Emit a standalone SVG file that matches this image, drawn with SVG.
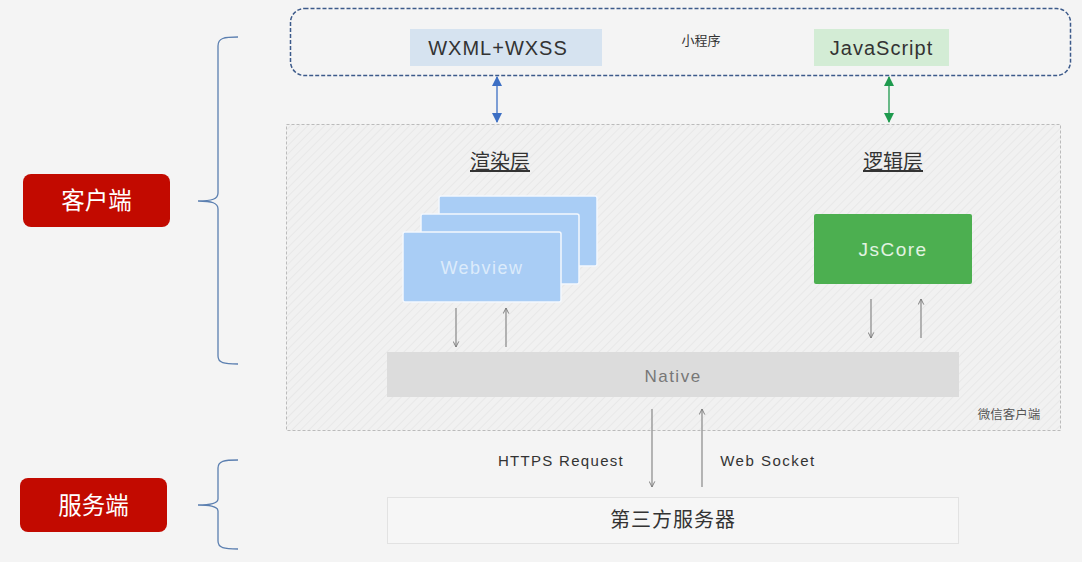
<svg xmlns="http://www.w3.org/2000/svg" width="1082" height="562" viewBox="0 0 1082 562">
<defs>
<pattern id="hatch" width="6" height="6" patternUnits="userSpaceOnUse" patternTransform="rotate(45)">
<rect width="6" height="6" fill="#f1f1f1"/>
<line x1="0" y1="0" x2="0" y2="6" stroke="#e6e6e6" stroke-width="1.5"/>
</pattern>
<marker id="ag" viewBox="0 0 10 10" refX="9" refY="5" markerWidth="7" markerHeight="7" orient="auto-start-reverse" markerUnits="userSpaceOnUse">
<path d="M1,1 L9,5 L1,9" fill="none" stroke="#777" stroke-width="1.3"/>
</marker>
<marker id="ab" viewBox="0 0 10 10" refX="9" refY="5" markerWidth="10" markerHeight="10" orient="auto-start-reverse" markerUnits="userSpaceOnUse">
<path d="M0,0 L10,5 L0,10 Z" fill="#3d6fc4"/>
</marker>
<marker id="agr" viewBox="0 0 10 10" refX="9" refY="5" markerWidth="10" markerHeight="10" orient="auto-start-reverse" markerUnits="userSpaceOnUse">
<path d="M0,0 L10,5 L0,10 Z" fill="#1e9a4e"/>
</marker>
</defs>
<style>
.sans{font-family:"Liberation Sans","Noto Sans CJK SC",sans-serif}
.cjk{font-family:"Noto Sans CJK SC","Liberation Sans",sans-serif}
.brace{fill:none;stroke:#5b7fb0;stroke-width:1.3}
.gl{stroke:#888;stroke-width:1.2;fill:none}
.wv{fill:#a9cdf5;stroke:#f4f8fd;stroke-width:1.5}
</style>
<rect width="1082" height="562" fill="#f4f4f4"/>

<g id="client-label">
<rect x="23" y="174" width="147" height="53" rx="8" fill="#c20a00"/>
<text x="96.5" y="209" text-anchor="middle" font-size="23.5" fill="#fff" class="cjk">客户端</text>
<path class="brace" d="M238,37 C224,37 218,38 218,46 L218,193 C218,199 212,201 198,201 C212,201 218,203 218,209 L218,356 C218,363 224,364 238,364"/>
</g>
<g id="server-label">
<rect x="20" y="478" width="147" height="54" rx="8" fill="#c20a00"/>
<text x="93.5" y="514" text-anchor="middle" font-size="23.5" fill="#fff" class="cjk">服务端</text>
<path class="brace" d="M238,460 C224,460 218,461 218,468 L218,499 C218,503 212,505 198,505 C212,505 218,507 218,511 L218,541 C218,548 224,549 238,549"/>
</g>

<g id="miniprogram">
<rect x="290.5" y="8.5" width="780" height="67" rx="14" fill="none" stroke="#3c5a8a" stroke-width="1.5" stroke-dasharray="4,2"/>
<text x="701" y="45" text-anchor="middle" font-size="13" fill="#333" class="cjk">小程序</text>
</g>
<g id="wxml">
<rect x="410" y="29" width="192" height="37" fill="#d6e3f0"/>
<text x="498" y="54.5" text-anchor="middle" font-size="20" letter-spacing="1" fill="#333" class="sans">WXML+WXSS</text>
</g>
<g id="javascript">
<rect x="814" y="29" width="135" height="37" fill="#d3ecd5"/>
<text x="881.5" y="54.5" text-anchor="middle" font-size="20" letter-spacing="1" fill="#333" class="sans">JavaScript</text>
</g>

<g id="wechat-client">
<rect x="286.5" y="124.5" width="774" height="306" fill="url(#hatch)" stroke="#bbb" stroke-width="1" stroke-dasharray="3,2"/>
<text x="1009" y="419" text-anchor="middle" font-size="12.5" fill="#555" class="cjk">微信客户端</text>
</g>
<g id="render-layer">
<text x="500" y="169" text-anchor="middle" font-size="20" fill="#333" class="cjk" text-decoration="underline">渲染层</text>
</g>
<g id="logic-layer">
<text x="893" y="169" text-anchor="middle" font-size="20" fill="#333" class="cjk" text-decoration="underline">逻辑层</text>
</g>
<g id="webview">
<rect class="wv" x="439" y="196" width="158" height="70" rx="2"/>
<rect class="wv" x="421" y="214" width="158" height="70" rx="2"/>
<rect class="wv" x="403" y="232" width="158" height="70" rx="2"/>
<text x="482" y="274" text-anchor="middle" font-size="18" letter-spacing="1.5" fill="#dcebfb" class="sans">Webview</text>
</g>
<g id="jscore">
<rect x="814" y="214" width="158" height="70" rx="2" fill="#4caf50"/>
<text x="893" y="256" text-anchor="middle" font-size="19" letter-spacing="1.5" fill="#e2f3e2" class="sans">JsCore</text>
</g>
<g id="native">
<rect x="387" y="352" width="572" height="45" fill="#dcdcdc"/>
<text x="673" y="382" text-anchor="middle" font-size="17" letter-spacing="1.5" fill="#777" class="sans">Native</text>
</g>
<g id="server">
<rect x="387.5" y="497.5" width="571" height="46" fill="#f6f6f6" stroke="#e2e2e2"/>
<text x="673" y="527" text-anchor="middle" font-size="20" letter-spacing="1" fill="#333" class="cjk">第三方服务器</text>
</g>

<g id="connectors">
<line x1="497" y1="77" x2="497" y2="122" stroke="#3d6fc4" stroke-width="1.3" marker-start="url(#ab)" marker-end="url(#ab)"/>
<line x1="889" y1="77" x2="889" y2="122" stroke="#1e9a4e" stroke-width="1.3" marker-start="url(#agr)" marker-end="url(#agr)"/>
<line class="gl" x1="456" y1="308" x2="456" y2="347" marker-end="url(#ag)"/>
<line class="gl" x1="506" y1="347" x2="506" y2="308" marker-end="url(#ag)"/>
<line class="gl" x1="871" y1="299" x2="871" y2="338" marker-end="url(#ag)"/>
<line class="gl" x1="921" y1="338" x2="921" y2="299" marker-end="url(#ag)"/>
<line class="gl" x1="652" y1="409" x2="652" y2="487" marker-end="url(#ag)"/>
<line class="gl" x1="702" y1="487" x2="702" y2="409" marker-end="url(#ag)"/>
<text x="561" y="465.5" text-anchor="middle" font-size="15" letter-spacing="1.3" fill="#333" class="sans">HTTPS Request</text>
<text x="768" y="465.5" text-anchor="middle" font-size="15" letter-spacing="1.5" fill="#333" class="sans">Web Socket</text>
</g>
</svg>
